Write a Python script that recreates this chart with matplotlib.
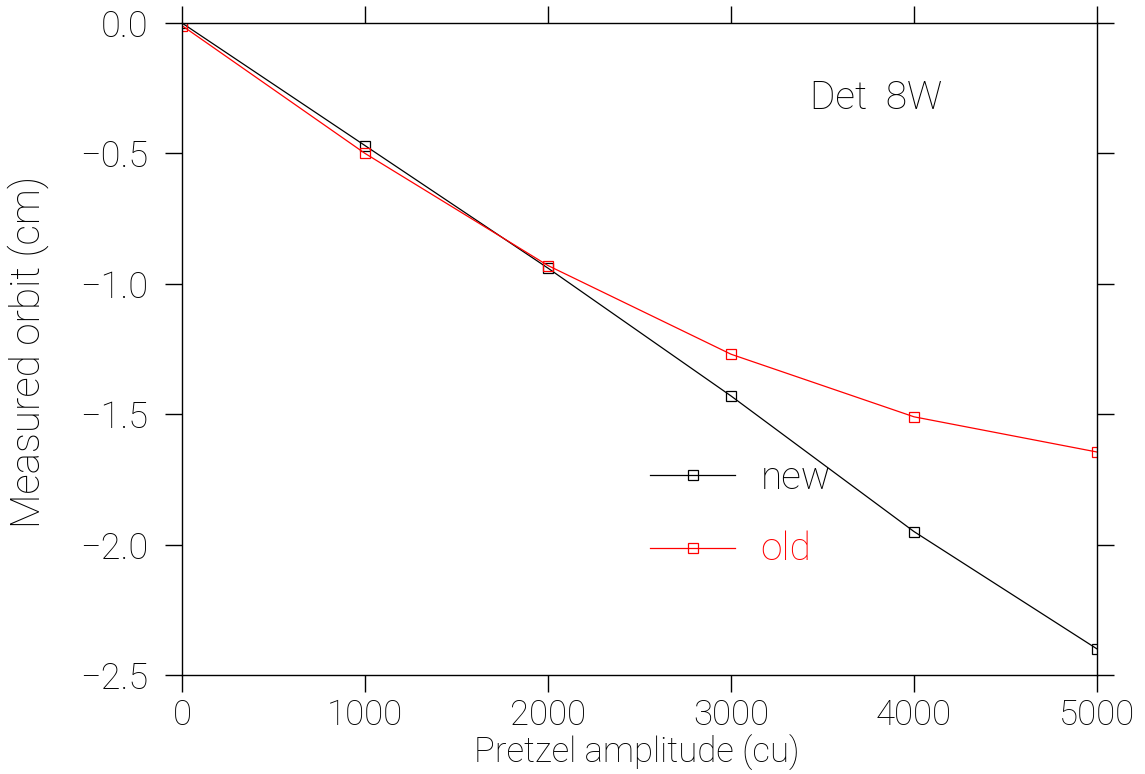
import matplotlib
matplotlib.use('Agg')
import matplotlib.pyplot as plt

amplitude = [0, 1000, 2000, 3000, 4000, 5000]
orbit_new = [0.0, -0.47, -0.94, -1.43, -1.95, -2.40]
orbit_old = [-0.01, -0.50, -0.93, -1.27, -1.51, -1.645]

x_ticks = [0, 1000, 2000, 3000, 4000, 5000]
y_ticks = [0.0, -0.5, -1.0, -1.5, -2.0, -2.5]

plt.rcParams['font.family'] = ['Roboto', 'DejaVu Sans']
plt.rcParams['font.weight'] = 'light'
plt.rcParams['axes.labelweight'] = 'light'

fig = plt.figure(figsize=(11.45, 7.74), dpi=100)
ax = fig.add_axes([182 / 1145, 1 - 675 / 774, (1097 - 182) / 1145, (675 - 23) / 774])

ax.plot(amplitude, orbit_new, color='black', lw=0.9, marker='s', ms=7,
        mfc='none', mec='black', mew=0.9)
ax.plot(amplitude, orbit_old, color='red', lw=0.9, marker='s', ms=7,
        mfc='none', mec='red', mew=0.9)

ax.set_xlim(0, 5000)
ax.set_ylim(-2.5, 0.0)
ax.set_xticks(x_ticks)
ax.set_yticks(y_ticks)
ax.set_xticklabels([str(v) for v in x_ticks])
ax.set_yticklabels([f'{v:.1f}'.replace('-', '\u2212') for v in y_ticks])

# tick length in points: 12.2 pt is about 17 px at 100 dpi
ax.tick_params(which='both', direction='out', length=12.2, width=1, labelsize=26,
               top=True, right=True, pad=12, colors='black')
ax.tick_params(axis='x', labelsize=25, pad=4.5)
for s in ax.spines.values():
    s.set_linewidth(1)

ax.set_xlabel('Pretzel amplitude (cu)', fontsize=25, fontweight='light')
ax.set_ylabel('Measured orbit (cm)', fontsize=29, fontweight='light')
ax.xaxis.label.set_va('baseline')
ax.yaxis.label.set_va('center')
ax.xaxis.set_label_coords(0.497, -0.135)
ax.yaxis.set_label_coords(-0.168, 0.496)

ax.text(0.686, 0.885, 'Det  8W', transform=ax.transAxes, fontsize=28,
        ha='left', va='center')

# hand-made legend, like the original
ax.plot([2560, 3020], [-1.733, -1.733], color='black', lw=0.9)
ax.plot([2790], [-1.733], color='black', marker='s', ms=7, mfc='none', mew=0.9)
ax.text(3160, -1.745, 'new', fontsize=28, va='center', ha='left', color='black')
ax.plot([2560, 3020], [-2.013, -2.013], color='red', lw=0.9)
ax.plot([2790], [-2.013], color='red', marker='s', ms=7, mfc='none', mew=0.9)
ax.text(3160, -2.017, 'old', fontsize=28, va='center', ha='left', color='red')

fig.savefig('out.png', dpi=100)
